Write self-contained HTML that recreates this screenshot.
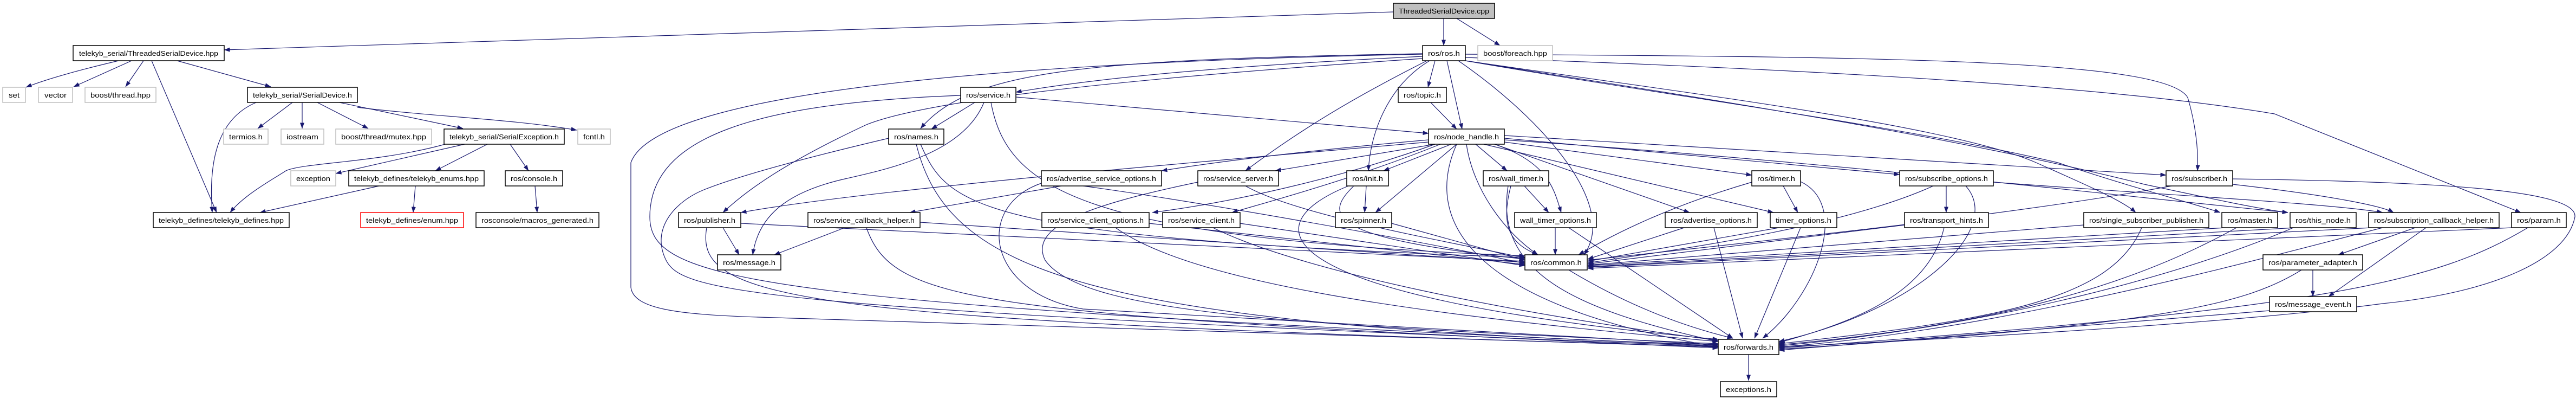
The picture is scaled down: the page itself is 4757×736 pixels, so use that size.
<!DOCTYPE html>
<html><head><meta charset="utf-8">
<style>
html,body{margin:0;padding:0;background:#fff;}
svg{display:block;}
text{font-family:"Liberation Sans",sans-serif;font-size:13px;fill:#000;}
.e{fill:none;stroke:#191970;stroke-width:1.2;marker-end:url(#a);}
.n{fill:#fff;stroke:#000;stroke-width:1.5;}
.g{fill:#fff;stroke:#bfbfbf;stroke-width:1.5;}
</style></head>
<body>
<svg width="4757" height="736" viewBox="0 0 4757 736" xmlns="http://www.w3.org/2000/svg">
<defs>
<marker id="a" markerWidth="11" markerHeight="8" refX="10.5" refY="4" orient="auto" markerUnits="userSpaceOnUse"><path d="M0,0 L11,4 L0,8 z" fill="#191970"/></marker>
</defs>
<g>
<path class="e" d="M2573 22 L414 92"/>
<path class="e" d="M2666 34 L2666 84"/>
<path class="e" d="M2690 34 L2770 84"/>
<path class="e" d="M219 112 Q100 140 48 161"/>
<path class="e" d="M243 112 L136 160"/>
<path class="e" d="M265 112 L232 160"/>
<path class="e" d="M327 112 L500 160"/>
<path class="e" d="M280 112 L400 392"/>
<path class="e" d="M540 189 L476 237"/>
<path class="e" d="M558 189 L558 237"/>
<path class="e" d="M586 189 L680 237"/>
<path class="e" d="M627 189 L855 237"/>
<path class="e" d="M660 198 C800 215 950 220 1065 240"/>
<path class="e" d="M473 189 C400 220 385 300 392 392"/>
<path class="e" d="M858 266 L620 320"/>
<path class="e" d="M900 266 L804 315"/>
<path class="e" d="M942 266 L976 315"/>
<path class="e" d="M822 266 C700 300 560 300 528 315 C505 330 450 360 425 392"/>
<path class="e" d="M700 343 L480 392"/>
<path class="e" d="M767 343 L763 392"/>
<path class="e" d="M988 343 L992 392"/>
<path class="e" d="M2627 104 C2300 120 2050 140 1876 170"/>
<path class="e" d="M2627 99 C2000 110 1790 130 1700 237"/>
<path class="e" d="M1800 189 L1720 238"/>
<path class="e" d="M2627 108 C2000 150 1700 190 1600 230 C1450 300 1380 350 1335 392"/>
<path class="e" d="M1817 189 C1780 280 1650 310 1560 330 C1450 355 1400 400 1390 470"/>
<path class="e" d="M2650 112 L2637 161"/>
<path class="e" d="M2672 112 L2700 238"/>
<path class="e" d="M2642 189 L2690 238"/>
<path class="e" d="M1876 179 L2638 246"/>
<path class="e" d="M2640 112 C2560 160 2530 250 2527 315"/>
<path class="e" d="M2693 112 C2850 220 2990 380 2925 470"/>
<path class="e" d="M2635 112 C2500 180 2400 240 2300 315"/>
<path class="e" d="M2627 100 C1600 120 1200 200 1165 300 L1165 530 C1170 570 1250 580 1400 585 L3173 640"/>
<path class="e" d="M2706 100 C3500 105 4000 110 4040 180 C4055 230 4060 280 4058 315"/>
<path class="e" d="M2706 106 C3400 130 3900 160 4200 210 L4655 392"/>
<path class="e" d="M2706 112 C3100 170 3600 230 3760 300 C3850 340 3920 370 3944 392"/>
<path class="e" d="M2706 112 C3100 180 3500 230 3800 300 C3950 350 4050 375 4100 392"/>
<path class="e" d="M2706 112 C3200 190 3600 250 3960 340 C4100 370 4170 385 4225 392"/>
<path class="e" d="M4123 330 C4500 335 4760 350 4755 400 C4740 480 4600 540 4400 560 C4100 600 3500 630 3285 640"/>
<path class="e" d="M4123 340 C4300 360 4400 380 4420 392"/>
<path class="e" d="M4010 343 C3700 400 3200 450 2932 480"/>
<path class="e" d="M2638 258 C2500 270 2300 290 2145 315"/>
<path class="e" d="M2650 266 L2355 315"/>
<path class="e" d="M2680 266 L2555 315"/>
<path class="e" d="M2690 266 L2540 392"/>
<path class="e" d="M2725 266 L2783 315"/>
<path class="e" d="M2760 266 C2860 300 2870 350 2883 392"/>
<path class="e" d="M2778 262 L3235 323"/>
<path class="e" d="M2760 266 L3120 392"/>
<path class="e" d="M2740 266 L3275 392"/>
<path class="e" d="M2778 255 L3508 322"/>
<path class="e" d="M2778 250 C3300 280 3800 310 4000 323"/>
<path class="e" d="M2638 262 C2200 300 1600 350 1368 392"/>
<path class="e" d="M1960 343 L1680 392"/>
<path class="e" d="M2650 266 C2500 320 2300 370 2128 392"/>
<path class="e" d="M2660 266 C2500 330 2350 370 2275 392"/>
<path class="e" d="M2708 266 C2720 350 2780 430 2840 470"/>
<path class="e" d="M2690 266 C2630 400 2700 560 3173 640"/>
<path class="e" d="M3681 336 C4000 360 4300 375 4400 392"/>
<path class="e" d="M2778 258 C3400 300 3900 360 4225 392"/>
<path class="e" d="M2523 343 L2520 392"/>
<path class="e" d="M2500 343 C2440 400 2460 440 2816 478"/>
<path class="e" d="M2815 343 L2860 392"/>
<path class="e" d="M2790 343 C2770 420 2790 450 2840 470"/>
<path class="e" d="M2785 343 C2760 500 2900 570 3173 630"/>
<path class="e" d="M3293 343 L3320 392"/>
<path class="e" d="M3235 336 C3050 390 2950 450 2915 470"/>
<path class="e" d="M3325 335 C3420 380 3350 550 3255 624"/>
<path class="e" d="M2570 412 L2816 480"/>
<path class="e" d="M2872 420 L2872 470"/>
<path class="e" d="M2897 420 L3200 624"/>
<path class="e" d="M3110 420 L2932 478"/>
<path class="e" d="M3165 420 L3218 624"/>
<path class="e" d="M3285 420 L2932 482"/>
<path class="e" d="M3325 420 L3240 624"/>
<path class="e" d="M3594 343 L3594 392"/>
<path class="e" d="M3570 343 C3400 420 3100 460 2932 485"/>
<path class="e" d="M3630 343 C3700 420 3550 570 3285 630"/>
<path class="e" d="M3517 415 L2932 487"/>
<path class="e" d="M3590 420 C3560 550 3400 600 3285 632"/>
<path class="e" d="M3848 415 L2932 489"/>
<path class="e" d="M3955 420 C3900 550 3700 590 3285 634"/>
<path class="e" d="M4110 420 L2932 490"/>
<path class="e" d="M4130 420 C3950 520 3700 600 3285 636"/>
<path class="e" d="M4240 420 L2932 492"/>
<path class="e" d="M4235 420 C4050 500 3700 600 3285 638"/>
<path class="e" d="M4380 420 L2932 493"/>
<path class="e" d="M4460 420 L4318 470"/>
<path class="e" d="M4480 420 L4300 547"/>
<path class="e" d="M4400 420 C4200 470 3700 610 3285 640"/>
<path class="e" d="M4640 420 L2932 495"/>
<path class="e" d="M4668 420 C4500 520 4300 570 3285 642"/>
<path class="e" d="M4271 498 L4271 547"/>
<path class="e" d="M4250 498 C4150 560 4000 600 3285 644"/>
<path class="e" d="M4191 573 L3285 646"/>
<path class="e" d="M2897 498 C3000 560 3100 600 3200 624"/>
<path class="e" d="M3229 652 L3229 702"/>
<path class="e" d="M1700 266 C1750 380 1800 440 2816 475"/>
<path class="e" d="M1692 266 C1750 500 2000 600 3173 636"/>
<path class="e" d="M1641 255 C1450 300 1350 330 1300 350 C1250 370 1200 420 1230 480 C1260 540 1400 570 3173 639"/>
<path class="e" d="M1830 189 C1860 350 2000 440 2816 472"/>
<path class="e" d="M1774 176 C1400 190 1200 250 1200 400 C1200 520 1400 560 3173 638"/>
<path class="e" d="M1335 420 L1365 470"/>
<path class="e" d="M1368 412 L2816 482"/>
<path class="e" d="M1305 420 C1280 560 1500 590 3173 640"/>
<path class="e" d="M1560 420 L1430 470"/>
<path class="e" d="M1699 410 L2816 484"/>
<path class="e" d="M1600 420 C1650 560 1800 580 3173 642"/>
<path class="e" d="M2000 343 C2200 370 2600 440 2816 486"/>
<path class="e" d="M1923 338 C1800 380 1820 540 2000 570 L3173 636"/>
<path class="e" d="M2300 343 C2400 400 2700 450 2816 476"/>
<path class="e" d="M2212 336 C2000 380 1900 420 1930 480 C2000 580 2400 600 3173 634"/>
<path class="e" d="M2122 412 L2816 488"/>
<path class="e" d="M2060 420 C2200 520 2600 580 3173 630"/>
<path class="e" d="M2290 412 L2816 490"/>
<path class="e" d="M2240 420 C2400 500 2800 580 3173 628"/>
<path class="e" d="M2490 343 C2300 420 2350 550 3173 626"/>
</g>
<g>
<rect x="2573" y="6" width="187" height="28" fill="#bfbfbf" stroke="#000" stroke-width="1.5"/><text x="2666.5" y="25" text-anchor="middle" textLength="167" lengthAdjust="spacingAndGlyphs">ThreadedSerialDevice.cpp</text>
<rect class="n" x="135" y="84" width="279" height="28"/><text x="274.5" y="103" text-anchor="middle" textLength="257" lengthAdjust="spacingAndGlyphs">telekyb_serial/ThreadedSerialDevice.hpp</text>
<rect class="n" x="2627" y="84" width="79" height="28"/><text x="2666.5" y="103" text-anchor="middle" textLength="59" lengthAdjust="spacingAndGlyphs">ros/ros.h</text>
<rect class="g" x="2729" y="84" width="138" height="28"/><text x="2798" y="103" text-anchor="middle" textLength="118" lengthAdjust="spacingAndGlyphs">boost/foreach.hpp</text>
<rect class="g" x="5" y="161" width="42" height="28"/><text x="26" y="180" text-anchor="middle" textLength="20" lengthAdjust="spacingAndGlyphs">set</text>
<rect class="g" x="71" y="161" width="63" height="28"/><text x="102.5" y="180" text-anchor="middle" textLength="41" lengthAdjust="spacingAndGlyphs">vector</text>
<rect class="g" x="157" y="161" width="131" height="28"/><text x="222.5" y="180" text-anchor="middle" textLength="111" lengthAdjust="spacingAndGlyphs">boost/thread.hpp</text>
<rect class="n" x="457" y="161" width="203" height="28"/><text x="558.5" y="180" text-anchor="middle" textLength="183" lengthAdjust="spacingAndGlyphs">telekyb_serial/SerialDevice.h</text>
<rect class="n" x="1774" y="161" width="102" height="28"/><text x="1825" y="180" text-anchor="middle" textLength="82" lengthAdjust="spacingAndGlyphs">ros/service.h</text>
<rect class="n" x="2582" y="161" width="89" height="28"/><text x="2626.5" y="180" text-anchor="middle" textLength="69" lengthAdjust="spacingAndGlyphs">ros/topic.h</text>
<rect class="g" x="413" y="238" width="82" height="28"/><text x="454" y="257" text-anchor="middle" textLength="62" lengthAdjust="spacingAndGlyphs">termios.h</text>
<rect class="g" x="519" y="238" width="79" height="28"/><text x="558.5" y="257" text-anchor="middle" textLength="59" lengthAdjust="spacingAndGlyphs">iostream</text>
<rect class="g" x="620" y="238" width="177" height="28"/><text x="708.5" y="257" text-anchor="middle" textLength="157" lengthAdjust="spacingAndGlyphs">boost/thread/mutex.hpp</text>
<rect class="n" x="820" y="238" width="222" height="28"/><text x="931" y="257" text-anchor="middle" textLength="202" lengthAdjust="spacingAndGlyphs">telekyb_serial/SerialException.h</text>
<rect class="g" x="1067" y="238" width="60" height="28"/><text x="1097" y="257" text-anchor="middle" textLength="40" lengthAdjust="spacingAndGlyphs">fcntl.h</text>
<rect class="n" x="1641" y="238" width="102" height="28"/><text x="1692" y="257" text-anchor="middle" textLength="82" lengthAdjust="spacingAndGlyphs">ros/names.h</text>
<rect class="n" x="2638" y="238" width="140" height="28"/><text x="2708" y="257" text-anchor="middle" textLength="120" lengthAdjust="spacingAndGlyphs">ros/node_handle.h</text>
<rect class="g" x="537" y="315" width="83" height="28"/><text x="578.5" y="334" text-anchor="middle" textLength="63" lengthAdjust="spacingAndGlyphs">exception</text>
<rect class="n" x="644" y="315" width="250" height="28"/><text x="769" y="334" text-anchor="middle" textLength="230" lengthAdjust="spacingAndGlyphs">telekyb_defines/telekyb_enums.hpp</text>
<rect class="n" x="933" y="315" width="106" height="28"/><text x="986" y="334" text-anchor="middle" textLength="86" lengthAdjust="spacingAndGlyphs">ros/console.h</text>
<rect class="n" x="1923" y="315" width="222" height="28"/><text x="2034" y="334" text-anchor="middle" textLength="202" lengthAdjust="spacingAndGlyphs">ros/advertise_service_options.h</text>
<rect class="n" x="2212" y="315" width="149" height="28"/><text x="2286.5" y="334" text-anchor="middle" textLength="129" lengthAdjust="spacingAndGlyphs">ros/service_server.h</text>
<rect class="n" x="2487" y="315" width="77" height="28"/><text x="2525.5" y="334" text-anchor="middle" textLength="57" lengthAdjust="spacingAndGlyphs">ros/init.h</text>
<rect class="n" x="2739" y="315" width="121" height="28"/><text x="2799.5" y="334" text-anchor="middle" textLength="101" lengthAdjust="spacingAndGlyphs">ros/wall_timer.h</text>
<rect class="n" x="3235" y="315" width="90" height="28"/><text x="3280" y="334" text-anchor="middle" textLength="70" lengthAdjust="spacingAndGlyphs">ros/timer.h</text>
<rect class="n" x="3508" y="315" width="173" height="28"/><text x="3594.5" y="334" text-anchor="middle" textLength="153" lengthAdjust="spacingAndGlyphs">ros/subscribe_options.h</text>
<rect class="n" x="4000" y="315" width="123" height="28"/><text x="4061.5" y="334" text-anchor="middle" textLength="103" lengthAdjust="spacingAndGlyphs">ros/subscriber.h</text>
<rect class="n" x="283" y="392" width="251" height="28"/><text x="408.5" y="411" text-anchor="middle" textLength="231" lengthAdjust="spacingAndGlyphs">telekyb_defines/telekyb_defines.hpp</text>
<rect x="666" y="392" width="190" height="28" fill="#fff" stroke="#ff0000" stroke-width="1.5"/><text x="761" y="411" text-anchor="middle" textLength="170" lengthAdjust="spacingAndGlyphs">telekyb_defines/enum.hpp</text>
<rect class="n" x="879" y="392" width="227" height="28"/><text x="992.5" y="411" text-anchor="middle" textLength="207" lengthAdjust="spacingAndGlyphs">rosconsole/macros_generated.h</text>
<rect class="n" x="1253" y="392" width="115" height="28"/><text x="1310.5" y="411" text-anchor="middle" textLength="95" lengthAdjust="spacingAndGlyphs">ros/publisher.h</text>
<rect class="n" x="1492" y="392" width="207" height="28"/><text x="1595.5" y="411" text-anchor="middle" textLength="187" lengthAdjust="spacingAndGlyphs">ros/service_callback_helper.h</text>
<rect class="n" x="1924" y="392" width="198" height="28"/><text x="2023" y="411" text-anchor="middle" textLength="178" lengthAdjust="spacingAndGlyphs">ros/service_client_options.h</text>
<rect class="n" x="2147" y="392" width="143" height="28"/><text x="2218.5" y="411" text-anchor="middle" textLength="123" lengthAdjust="spacingAndGlyphs">ros/service_client.h</text>
<rect class="n" x="2466" y="392" width="104" height="28"/><text x="2518" y="411" text-anchor="middle" textLength="84" lengthAdjust="spacingAndGlyphs">ros/spinner.h</text>
<rect class="n" x="2797" y="392" width="151" height="28"/><text x="2872.5" y="411" text-anchor="middle" textLength="131" lengthAdjust="spacingAndGlyphs">wall_timer_options.h</text>
<rect class="n" x="3075" y="392" width="170" height="28"/><text x="3160" y="411" text-anchor="middle" textLength="150" lengthAdjust="spacingAndGlyphs">ros/advertise_options.h</text>
<rect class="n" x="3269" y="392" width="123" height="28"/><text x="3330.5" y="411" text-anchor="middle" textLength="103" lengthAdjust="spacingAndGlyphs">timer_options.h</text>
<rect class="n" x="3517" y="392" width="155" height="28"/><text x="3594.5" y="411" text-anchor="middle" textLength="135" lengthAdjust="spacingAndGlyphs">ros/transport_hints.h</text>
<rect class="n" x="3848" y="392" width="231" height="28"/><text x="3963.5" y="411" text-anchor="middle" textLength="211" lengthAdjust="spacingAndGlyphs">ros/single_subscriber_publisher.h</text>
<rect class="n" x="4103" y="392" width="103" height="28"/><text x="4154.5" y="411" text-anchor="middle" textLength="83" lengthAdjust="spacingAndGlyphs">ros/master.h</text>
<rect class="n" x="4229" y="392" width="122" height="28"/><text x="4290" y="411" text-anchor="middle" textLength="102" lengthAdjust="spacingAndGlyphs">ros/this_node.h</text>
<rect class="n" x="4374" y="392" width="241" height="28"/><text x="4494.5" y="411" text-anchor="middle" textLength="221" lengthAdjust="spacingAndGlyphs">ros/subscription_callback_helper.h</text>
<rect class="n" x="4638" y="392" width="101" height="28"/><text x="4688.5" y="411" text-anchor="middle" textLength="81" lengthAdjust="spacingAndGlyphs">ros/param.h</text>
<rect class="n" x="1325" y="470" width="117" height="28"/><text x="1383.5" y="489" text-anchor="middle" textLength="97" lengthAdjust="spacingAndGlyphs">ros/message.h</text>
<rect class="n" x="2816" y="470" width="115" height="28"/><text x="2873.5" y="489" text-anchor="middle" textLength="95" lengthAdjust="spacingAndGlyphs">ros/common.h</text>
<rect class="n" x="4179" y="470" width="184" height="28"/><text x="4271" y="489" text-anchor="middle" textLength="164" lengthAdjust="spacingAndGlyphs">ros/parameter_adapter.h</text>
<rect class="n" x="4191" y="547" width="161" height="28"/><text x="4271.5" y="566" text-anchor="middle" textLength="141" lengthAdjust="spacingAndGlyphs">ros/message_event.h</text>
<rect class="n" x="3173" y="626" width="112" height="28"/><text x="3229" y="645" text-anchor="middle" textLength="92" lengthAdjust="spacingAndGlyphs">ros/forwards.h</text>
<rect class="n" x="3177" y="704" width="104" height="28"/><text x="3229" y="723" text-anchor="middle" textLength="84" lengthAdjust="spacingAndGlyphs">exceptions.h</text>
</g>
</svg>
</body></html>
